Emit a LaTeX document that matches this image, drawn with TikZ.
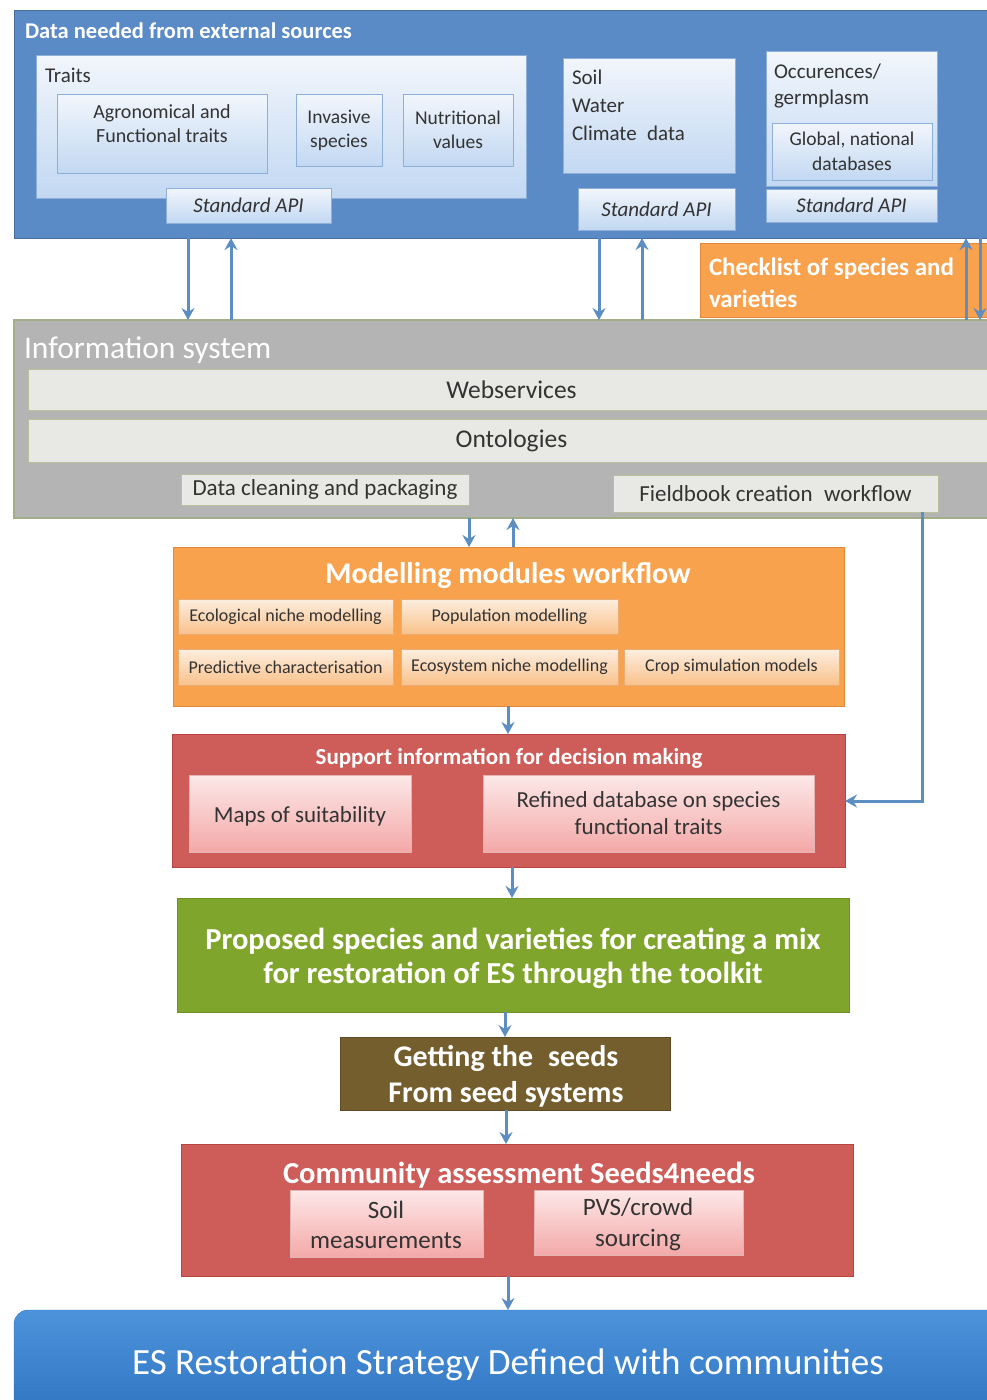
\documentclass[tikz,border=0pt]{standalone}
\usepackage{fontspec}
\setmainfont{Carlito}
\usetikzlibrary{arrows.meta}

\definecolor{extblue}{HTML}{5A8BC6}
\definecolor{panelTop}{HTML}{F2F6FC}
\definecolor{panelBot}{HTML}{C2D8F2}
\definecolor{panelLine}{HTML}{8EAFD8}
\definecolor{isgray}{HTML}{B4B4B4}
\definecolor{isline}{HTML}{A2AE86}
\definecolor{barfill}{HTML}{E8E9E4}
\definecolor{barline}{HTML}{B8C19C}
\definecolor{orangeA}{HTML}{F8A24E}
\definecolor{orangeLine}{HTML}{E28A3A}
\definecolor{peachTop}{HTML}{FDEEDF}
\definecolor{peachBot}{HTML}{F9C28C}
\definecolor{redbox}{HTML}{CE5C58}
\definecolor{redLine}{HTML}{B9433F}
\definecolor{pinkTop}{HTML}{FDE8E8}
\definecolor{pinkBot}{HTML}{F3A9A8}
\definecolor{greenbox}{HTML}{80A52C}
\definecolor{greenLine}{HTML}{6E9124}
\definecolor{brownbox}{HTML}{755E2E}
\definecolor{esTop}{HTML}{4C93DC}
\definecolor{esBot}{HTML}{2E73BE}
\definecolor{arrowblue}{HTML}{5C8DC3}
\definecolor{inktext}{HTML}{333333}

% box placed by its top-left and bottom-right corners (in pixels)
\newcommand\pbox[7]{%
  \pgfmathsetmacro\bw{#4-#2}\pgfmathsetmacro\bh{#5-#3}%
  \node[#6, anchor=north west, inner sep=0pt, outer sep=0pt,
        minimum width=\bw pt, minimum height=\bh pt] (#1) at (#2,#3) {#7};}

\tikzset{
  % font size with explicit line distance: fsl={size}{skip}
  fsl/.code 2 args={%
    \edef\fstmp{\noexpand\fontsize{#1}{#2}\noexpand\selectfont}%
    \pgfkeysalso{/tikz/font/.expand once=\fstmp}},
  fslb/.code 2 args={%
    \edef\fstmp{\noexpand\fontsize{#1}{#2}\noexpand\selectfont\noexpand\bfseries}%
    \pgfkeysalso{/tikz/font/.expand once=\fstmp}},
  fs/.code={\pgfmathsetmacro\fsbase{#1*1.2}\pgfkeysalso{/tikz/fsl={#1}{\fsbase}}},
  fsb/.code={\pgfmathsetmacro\fsbase{#1*1.2}\pgfkeysalso{/tikz/fslb={#1}{\fsbase}}},
  fsi/.code={\pgfmathsetmacro\fsbase{#1*1.2}%
    \edef\fstmp{\noexpand\fontsize{#1}{\fsbase}\noexpand\selectfont\noexpand\itshape}%
    \pgfkeysalso{/tikz/font/.expand once=\fstmp}},
  ext/.style={fill=extblue, draw=extblue!80!black, line width=0.8pt},
  panel/.style={top color=panelTop, bottom color=panelBot, draw=panelLine, line width=1pt, text=inktext},
  isbox/.style={fill=isgray, draw=isline, line width=1.2pt},
  bar/.style={fill=barfill, draw=barline, line width=1pt, text=inktext},
  orangebox/.style={fill=orangeA, draw=orangeLine, line width=1pt},
  peach/.style={top color=peachTop, bottom color=peachBot, draw=orangeLine!70, line width=0.8pt, text=inktext},
  redpanel/.style={fill=redbox, draw=redLine, line width=1pt},
  pink/.style={top color=pinkTop, bottom color=pinkBot, draw=redLine!40, line width=0.8pt, text=inktext},
  greenpanel/.style={fill=greenbox, draw=greenLine, line width=1pt},
  brownpanel/.style={fill=brownbox, draw=brownbox!80!black, line width=1pt},
  espanel/.style={top color=esTop, bottom color=esBot, draw=esBot, rounded corners=14pt},
  arr/.style={draw=arrowblue, line width=3pt, -{Stealth[length=12pt,width=13pt,inset=4pt]}},
  label/.style={inner sep=0pt, outer sep=0pt},
}

\begin{document}
\begin{tikzpicture}[x=1pt,y=-1pt]
\useasboundingbox (0,0) rectangle (987,1400);

% ---------------- external data sources ----------------
\pbox{ext}{14}{10}{995}{238}{ext}{}
\node[label, anchor=base west, text=white, fsb=22.5] (extT) at (25,38) {Data needed from external sources};

\pbox{traits}{36}{55}{526}{198}{panel}{}
\node[label, anchor=base west, text=inktext, fs=21] (traitsT) at (45,82) {Traits};
\pbox{agro}{57}{94}{267}{173}{panel}{}
\node[label, align=center, text=inktext, fsl={20}{24}] (agroT) at (162,124) {Agronomical and\\Functional traits};
\pbox{inv}{296}{94}{382}{166}{panel, align=center, fsl={19.5}{24}}{Invasive\\species}
\pbox{nutr}{403}{94}{513}{166}{panel, align=center, fsl={19.5}{24}}{Nutritional\\values}
\pbox{api1}{166}{188}{331}{223}{panel, fsi=21}{Standard API}

\pbox{soil}{563}{58}{735}{173}{panel}{}
\node[label, anchor=north west, align=left, text=inktext, fsl={21}{28}] (soilT) at (572,70) {Soil\\Water\\Climate\enspace data};
\pbox{api2}{578}{188}{735}{230}{panel, fsi=21}{Standard API}

\pbox{occ}{766}{51}{937}{186}{panel}{}
\node[label, anchor=north west, align=left, text=inktext, fsl={21}{26}] (occT) at (774,64) {Occurences/\\germplasm};
\pbox{glob}{772}{123}{932}{180}{panel, align=center, fsl={19.5}{25}}{Global, national\\databases}
\pbox{api3}{766}{189}{937}{222}{panel, fsi=21}{Standard API}

% checklist
\pbox{check}{700}{243}{990}{317}{orangebox}{}
\node[label, anchor=north west, align=left, text=white, fslb={25}{32}] (checkT) at (709,258) {Checklist of species and\\varieties};

% ---------------- information system ----------------
\pbox{info}{14}{320}{995}{518}{isbox}{}
\node[label, anchor=base west, text=white, fs=31.5] (infoT) at (24,358) {Information system};
\pbox{web}{28}{369}{995}{410}{bar, fs=25.5}{Webservices}
\pbox{onto}{28}{419}{995}{462}{bar, fs=25.5}{Ontologies}
\pbox{clean}{181}{474}{469}{505}{bar, fs=23}{Data cleaning and packaging}
\pbox{field}{613}{475}{938}{512}{bar, fs=23}{Fieldbook creation\enspace workflow}

% ---------------- modelling ----------------
\pbox{model}{173}{547}{844}{706}{orangebox}{}
\node[label, anchor=base, text=white, fsb=30] (modelT) at (508,583) {Modelling modules workflow};
\pbox{m1}{178}{599}{393}{634}{peach, fs=18}{Ecological niche modelling}
\pbox{m2}{401}{599}{618}{634}{peach, fs=18}{Population modelling}
\pbox{m3}{178}{649}{393}{685}{peach, fs=18}{Predictive characterisation}
\pbox{m4}{401}{649}{618}{685}{peach, fs=18}{Ecosystem niche modelling}
\pbox{m5}{624}{649}{839}{685}{peach, fs=18}{Crop simulation models}

% ---------------- decision support ----------------
\pbox{supp}{172}{734}{845}{867}{redpanel}{}
\node[label, anchor=base, text=white, fsb=23] (suppT) at (509,764) {Support information for decision making};
\pbox{maps}{189}{775}{411}{852}{pink}{}
\node[label, text=inktext, fs=23] (mapsT) at (300,816) {Maps of suitability};
\pbox{refined}{483}{775}{814}{852}{pink, align=center, fsl={23}{27}}{Refined database on species\\functional traits}

% ---------------- proposal, seeds, community ----------------
\pbox{prop}{177}{898}{849}{1012}{greenpanel}{}
\node[label, align=center, text=white, fslb={30.5}{34}] (propT) at (513,958) {Proposed species and varieties for creating a mix\\for restoration of ES through the toolkit};
\pbox{seeds}{340}{1037}{670}{1110}{brownpanel}{}
\node[label, align=center, text=white, fslb={30}{36}] (seedsT) at (506,1076) {Getting the\enspace seeds\\From seed systems};

\pbox{comm}{181}{1144}{853}{1276}{redpanel}{}
\node[label, anchor=base, text=white, fsb=30.5] (commT) at (519,1183) {Community assessment Seeds4needs};
\pbox{soilm}{290}{1190}{483}{1257}{pink}{}
\node[label, align=center, text=inktext, fsl={25}{30}] (soilmT) at (386,1225) {Soil\\measurements};
\pbox{pvs}{534}{1190}{743}{1255}{pink}{}
\node[label, align=center, text=inktext, fsl={25}{31}] (pvsT) at (638,1224) {PVS/crowd\\sourcing};

\pbox{es}{14}{1310}{1010}{1420}{espanel}{}
\node[label, anchor=base, text=white, fs=37] (esT) at (508,1374) {ES Restoration Strategy Defined with communities};

% ---------------- connectors ----------------
\coordinate (xa) at (188,0);
\coordinate (xb) at (231,0);
\coordinate (xc) at (599,0);
\coordinate (xd) at (642,0);
\coordinate (xe) at (966,0);
\coordinate (xf) at (980,0);
\coordinate (xg) at (469,0);
\coordinate (xh) at (513,0);
\coordinate (xi) at (922,0);
\coordinate (yr) at (0,801);

\draw[arr] (ext.south -| xa) -- (info.north -| xa);
\draw[arr] (info.north -| xb) -- (ext.south -| xb);
\draw[arr] (ext.south -| xc) -- (info.north -| xc);
\draw[arr] (info.north -| xd) -- (ext.south -| xd);
\draw[arr] (info.north -| xe) -- (ext.south -| xe);
\draw[arr] (ext.south -| xf) -- (info.north -| xf);

\draw[arr] (info.south -| xg) -- (model.north -| xg);
\draw[arr] (model.north -| xh) -- (info.south -| xh);

\draw[arr] (field.south -| xi) -- (xi |- yr) -- (supp.east |- yr);

\draw[arr] (model.south -| 508,0) -- (supp.north -| 508,0);
\draw[arr] (supp.south -| 512,0) -- (prop.north -| 512,0);
\draw[arr] (prop.south -| 505,0) -- (seeds.north -| 505,0);
\draw[arr] (seeds.south -| 506,0) -- (comm.north -| 506,0);
\draw[arr] (comm.south -| 508,0) -- (es.north -| 508,0);
\end{tikzpicture}
\end{document}
